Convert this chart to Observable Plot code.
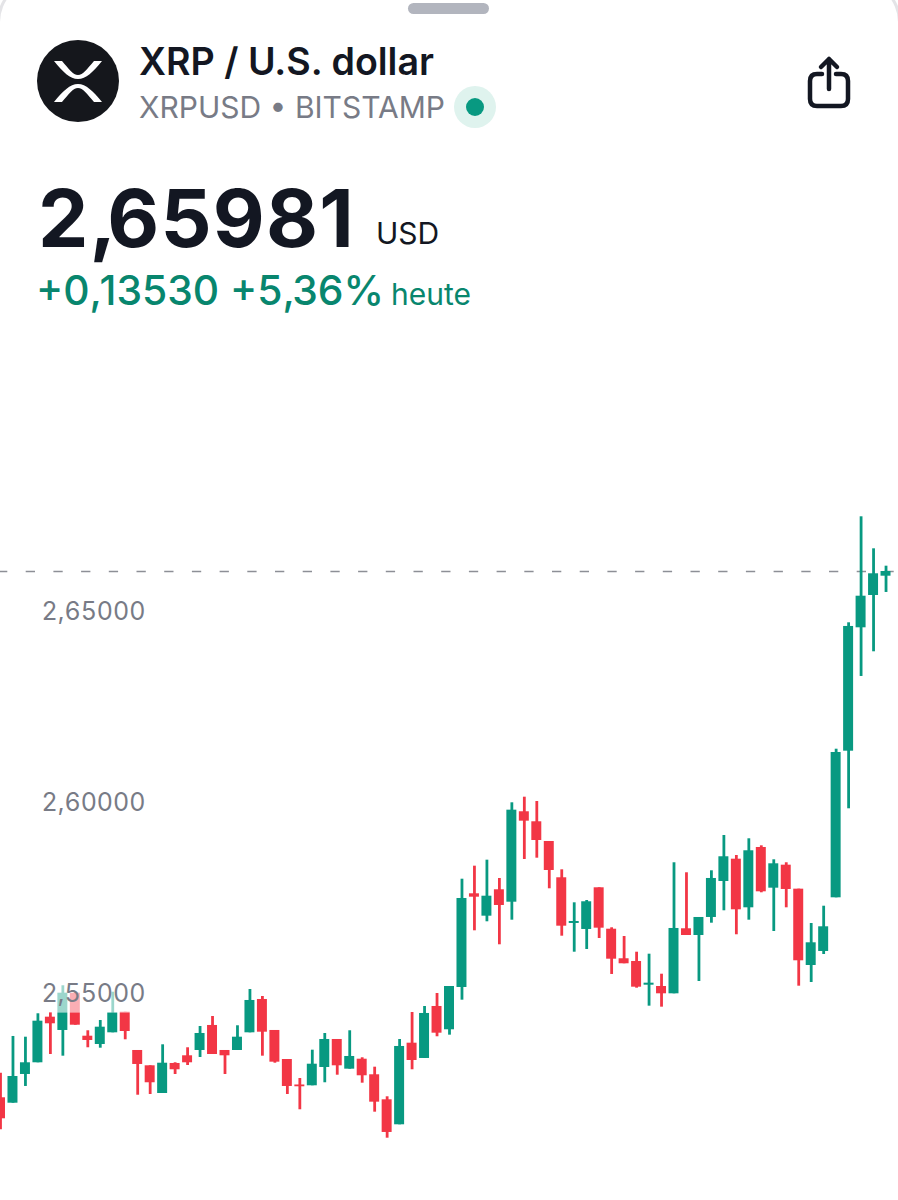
<!DOCTYPE html>
<html lang="de">
<head>
<meta charset="utf-8">
<script src="https://cdn.jsdelivr.net/npm/d3@7"></script>
<script src="https://cdn.jsdelivr.net/npm/@observablehq/plot@0.6"></script>
<style>
html,body{margin:0;padding:0;background:#fff;}
body{width:898px;overflow:hidden;font-family:Inter,"Noto Sans",sans-serif;color:#131722;}
#head{position:relative;width:898px;height:340px;overflow:hidden;}
#head div{position:absolute;white-space:nowrap;line-height:1;}
#chart svg{display:block;}
.c1{letter-spacing:-9px;}
.c2{letter-spacing:-2.5px;}
</style>
</head>
<body>
<div id="head">
  <div style="left:-3px;top:-21px;width:898px;height:80px;border:3px solid #e4e4e7;border-bottom:none;border-radius:43px 43px 0 0;box-sizing:content-box"></div>
  <div style="left:408px;top:3px;width:81px;height:11px;border-radius:6px;background:#b2b5be"></div>
  <svg style="position:absolute;left:0;top:0" width="898" height="140" viewBox="0 0 898 140">
    <circle cx="78" cy="81" r="41" fill="#15171c"/>
    <path d="M54,61L62,61C69,69 73,75 78,75C83,75 87,69 94,61L102,61C93,72 86,79 78,79C70,79 63,72 54,61Z" fill="#fff"/>
    <path d="M54,102L62,102C69,94 73,88 78,88C83,88 87,94 94,102L102,102C93,91 86,84 78,84C70,84 63,91 54,102Z" fill="#fff"/>
    <circle cx="475" cy="107" r="21" fill="#dff3ee"/>
    <circle cx="475" cy="107" r="9" fill="#089981"/>
    <g fill="none" stroke="#131722" stroke-width="4.5" stroke-linecap="round" stroke-linejoin="round">
      <path d="M822,74L817,74Q810,74 810,81L810,99Q810,106 817,106L841,106Q848,106 848,99L848,81Q848,74 841,74L836,74"/>
      <path d="M829,89L829,59M821,67L829,59L837,67"/>
    </g>
  </svg>
  <div style="left:139px;top:43px;font-size:37.6px;font-weight:600;">XRP / U.S. dollar</div>
  <div style="left:139px;top:92px;font-size:30px;color:#787b86;">XRPUSD &#8226; BITSTAMP</div>
  <div style="left:38px;top:178px;font-size:80px;font-weight:700;letter-spacing:1.2px;">2<span class="c1">,</span>65981</div>
  <div style="left:376px;top:218px;font-size:30px;">USD</div>
  <div style="left:36px;top:270px;font-size:40.8px;font-weight:500;color:#08866e;">+0<span class="c2">,</span>13530 +5<span class="c2">,</span>36%</div>
  <div style="left:391px;top:279px;font-size:30px;font-weight:400;color:#08866e;">heute</div>
</div>
<div id="chart"></div>
<script>
const open_ = [2.52204,2.52062,2.52814,2.53120,2.54314,2.53966,2.54942,2.53816,2.53599,2.53905,2.54445,2.53442,2.53041,2.52316,2.53102,2.53303,2.53442,2.54097,2.53442,2.53442,2.53905,2.54777,2.53966,2.53206,2.52539,2.52518,2.52997,2.53730,2.52953,2.53214,2.52806,2.52151,2.51497,2.53633,2.53233,2.54594,2.53984,2.55091,2.57544,2.56958,2.57649,2.57324,2.59691,2.59429,2.58913,2.57963,2.56767,2.56610,2.57701,2.56617,2.55843,2.55772,2.55151,2.55117,2.54926,2.56628,2.56452,2.56924,2.57866,2.58450,2.57177,2.58756,2.57691,2.58293,2.57665,2.55667,2.56034,2.57439,2.61277,2.64507,2.65353,2.65858];
const high = [2.52848,2.53809,2.53790,2.54403,2.54437,2.55136,2.54942,2.53958,2.54227,2.54968,2.54445,2.53442,2.53041,2.53591,2.53120,2.53513,2.54070,2.54332,2.53442,2.54089,2.55039,2.54856,2.53966,2.53206,2.52709,2.53450,2.53887,2.53730,2.53958,2.53251,2.53005,2.52230,2.53730,2.54437,2.54594,2.54934,2.55117,2.57926,2.58267,2.58424,2.57945,2.59926,2.60073,2.59960,2.58913,2.58172,2.57308,2.57369,2.57701,2.56654,2.56426,2.56015,2.55963,2.55439,2.58356,2.58094,2.56924,2.58146,2.59070,2.58547,2.58984,2.58800,2.58434,2.58356,2.57665,2.56767,2.57219,2.61329,2.64638,2.67413,2.66575,2.66120];
const low = [2.51366,2.52062,2.52500,2.53120,2.53337,2.53293,2.54104,2.53513,2.53502,2.53905,2.53722,2.52271,2.52290,2.52316,2.52814,2.53049,2.53259,2.53337,2.52814,2.53442,2.53905,2.53293,2.53109,2.52290,2.51890,2.52518,2.52597,2.52795,2.52953,2.52586,2.51827,2.51146,2.51497,2.52937,2.53233,2.53801,2.53843,2.54759,2.56575,2.56811,2.56209,2.56853,2.58442,2.58476,2.57675,2.56434,2.56015,2.56086,2.56374,2.55432,2.55712,2.55073,2.54602,2.54576,2.54926,2.56452,2.55248,2.56774,2.57099,2.56471,2.56853,2.57570,2.56557,2.57177,2.55125,2.55222,2.55955,2.57439,2.59769,2.63233,2.63879,2.65432];
const close_ = [2.51654,2.52761,2.53120,2.54209,2.54141,2.54942,2.54104,2.53704,2.54052,2.54429,2.53939,2.53076,2.52597,2.53109,2.52937,2.53120,2.53887,2.53337,2.53303,2.53790,2.54751,2.53921,2.53136,2.52500,2.52492,2.53083,2.53730,2.53041,2.53285,2.52780,2.52089,2.51296,2.53547,2.53180,2.54411,2.53895,2.55117,2.57421,2.57455,2.57481,2.57238,2.59733,2.59445,2.58939,2.58154,2.56696,2.56819,2.57335,2.56644,2.55832,2.55712,2.55099,2.55204,2.54926,2.56636,2.56452,2.56924,2.57945,2.58513,2.57125,2.58670,2.57596,2.58329,2.57657,2.55790,2.56261,2.56680,2.61243,2.64542,2.65334,2.65921,2.65981];
const priceTicks = [2.55, 2.60, 2.65];
const lastPrice = [2.65981];

const candles = open_.map((o, i) => ({
  i, open: o, high: high[i], low: low[i], close: close_[i],
  dir: close_[i] >= o ? "up" : "down"
}));
const fmt = d => d3.format(".5f")(d).replace(".", ",");

const chart = Plot.plot({
  width: 898,
  height: 860,
  margin: 0,
  style: {fontFamily: "Inter, 'Noto Sans', sans-serif", background: "transparent", overflow: "hidden"},
  x: {domain: [0, 72], range: [0, 898], axis: null},
  y: {domain: [2.49515, 2.72028], range: [860, 0], axis: null},
  color: {domain: ["up", "down"], range: ["#089981", "#f23645"]},
  marks: [
    Plot.ruleY(lastPrice, {y: d => d, stroke: "#8d8f96", strokeWidth: 1.4, strokeDasharray: "9.3,18.4", strokeDashoffset: 2}),
    Plot.ruleX(candles, {x: "i", y1: "low", y2: "high", stroke: "dir", strokeWidth: 2.8}),
    Plot.rect(candles, {
      x1: d => d.i - 0.4, x2: d => d.i + 0.4,
      y1: d => Math.min(d.open, d.close), y2: d => Math.max(d.open, d.close),
      fill: "dir"
    }),
    Plot.rect(priceTicks, {x1: 3.3, x2: 11.7, y1: d => d - 0.0058, y2: d => d + 0.0046, fill: "#fff", fillOpacity: 0.6}),
    Plot.axisY(priceTicks, {anchor: "left", label: null, tickSize: 0, tickPadding: 0, tickFormat: fmt,
      dx: 145, dy: 3.5, textAnchor: "end", fontSize: 25, fill: "#787b86"})
  ]
});
document.getElementById("chart").appendChild(chart);
</script>
</body>
</html>
